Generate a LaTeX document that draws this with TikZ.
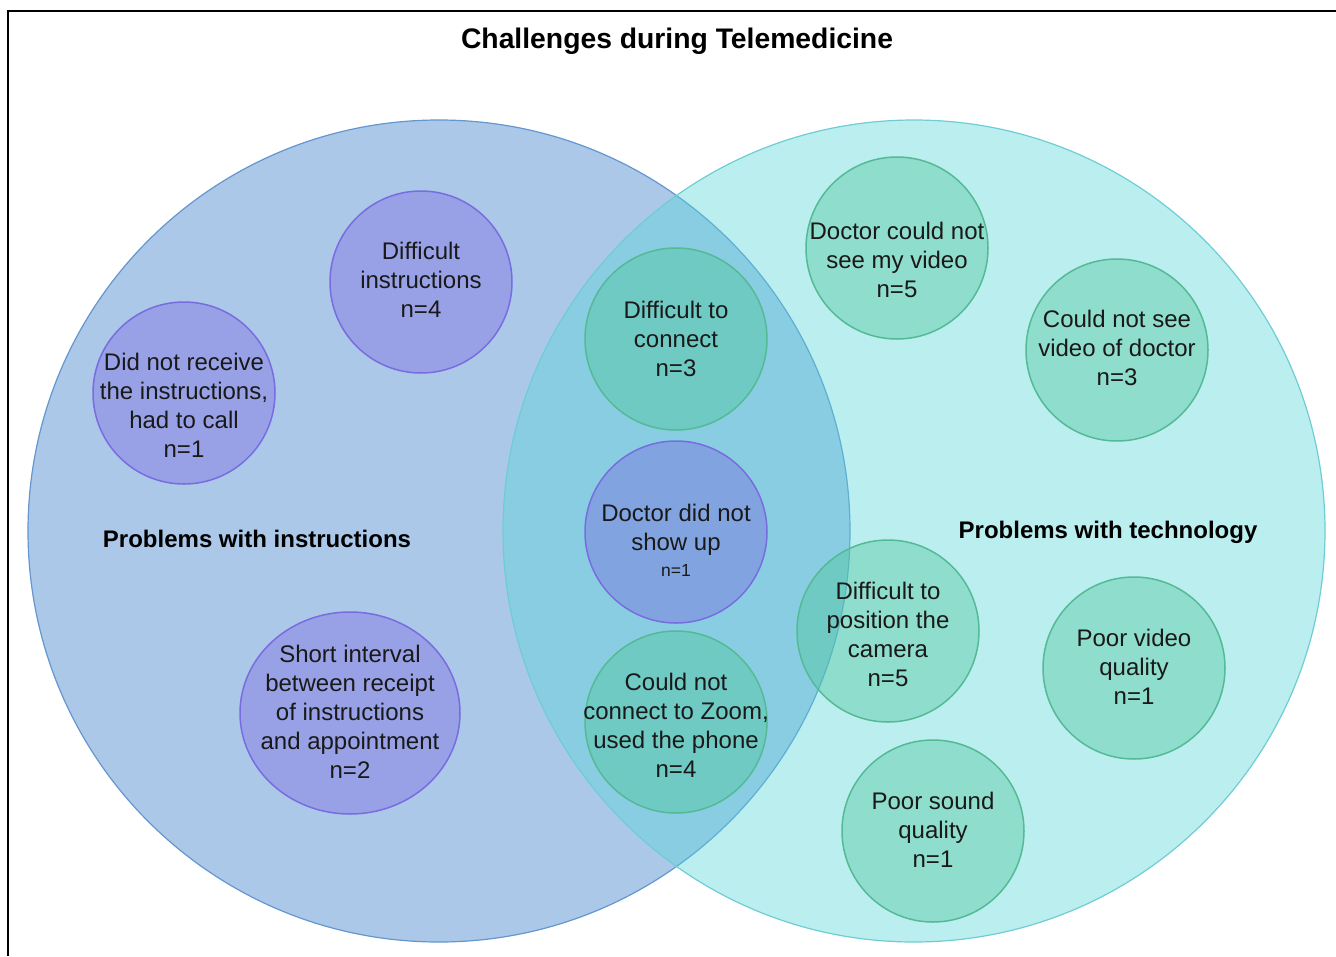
\documentclass[tikz,border=0pt]{standalone}
\usepackage{fontspec}
\setmainfont{Liberation Sans}
\usetikzlibrary{shapes.geometric}
\definecolor{bigLfill}{RGB}{171,200,232}
\definecolor{bigLdraw}{RGB}{100,150,208}
\definecolor{bigRfill}{RGB}{85,213,216}
\definecolor{bigRdraw}{RGB}{110,205,212}
\definecolor{purpfill}{RGB}{118,86,226}
\definecolor{purpdraw}{RGB}{120,108,224}
\definecolor{grnfill}{RGB}{81,198,158}
\definecolor{grndraw}{RGB}{84,186,150}
\definecolor{textc}{RGB}{25,25,25}
\begin{document}
\begin{tikzpicture}[x=1pt,y=-1pt,
  bigL/.style={circle, minimum size=822pt, inner sep=0pt, fill=bigLfill, draw=bigLdraw, line width=1.2pt},
  bigR/.style={circle, minimum size=822pt, inner sep=0pt, fill=bigRfill, fill opacity=0.4, draw=bigRdraw, draw opacity=1, line width=1.2pt},
  purp/.style={circle, minimum size=182pt, inner sep=0pt, fill=purpfill, fill opacity=0.34, draw=purpdraw, draw opacity=1, line width=1.5pt},
  purpell/.style={ellipse, minimum width=220pt, minimum height=202pt, inner sep=0pt, fill=purpfill, fill opacity=0.34, draw=purpdraw, draw opacity=1, line width=1.5pt},
  grn/.style={circle, minimum size=182pt, inner sep=0pt, fill=grnfill, fill opacity=0.42, draw=grndraw, draw opacity=1, line width=1.5pt},
  txt/.style={align=center, font=\fontsize{24}{29}\selectfont, text=textc, inner sep=0pt},
  head/.style={font=\bfseries\fontsize{24}{29}\selectfont, text=black, inner sep=0pt},
  frame/.style={line width=2.2pt, draw=black}
]
\useasboundingbox (0,0) rectangle (1336,956);
\coordinate (fa) at (8,956);
\coordinate (fb) at (8,11);
\coordinate (fc) at (1336,11);
\draw[frame] (fa) -- (fb) -- (fc);

\node[head, font=\bfseries\fontsize{28.3}{32}\selectfont] (title) at (677,41) {Challenges during Telemedicine};

\node[bigL] (L) at (439,531) {};
\node[bigR] (R) at (914,531) {};

\node[purp] (c1) at (421,282) {};
\node[purp] (c2) at (184,393) {};
\node[purpell] (c3) at (350,713) {};
\node[grn] (c4) at (676,339) {};
\node[purp] (c5) at (676,532) {};
\node[grn] (c6) at (676,722) {};
\node[grn] (c7) at (897,248) {};
\node[grn] (c8) at (1117,350) {};
\node[grn] (c9) at (888,631) {};
\node[grn] (c10) at (1134,668) {};
\node[grn] (c11) at (933,831) {};

\node[txt] (t1) at (421,280) {Difficult\\instructions\\n=4};
\node[txt] (t2) at (184,405) {Did not receive\\the instructions,\\had to call\\n=1};
\node[txt] (t3) at (350,712) {Short interval\\between receipt\\of instructions\\and appointment\\n=2};
\node[txt] (t4) at (676,339) {Difficult to\\connect\\n=3};
\node[txt] (t5) at (676,540) {Doctor did not\\show up\\[-3pt]{\fontsize{17.5}{20}\selectfont n=1}};
\node[txt] (t6) at (676,725) {Could not\\connect to Zoom,\\used the phone\\n=4};
\node[txt] (t7) at (897,260) {Doctor could not\\see my video\\n=5};
\node[txt] (t8) at (1117,348) {Could not see\\video of doctor\\n=3};
\node[txt] (t9) at (888,634) {Difficult to\\position the\\camera\\n=5};
\node[txt] (t10) at (1134,667) {Poor video\\quality\\n=1};
\node[txt] (t11) at (933,830) {Poor sound\\quality\\n=1};

\node[head] (hl) at (257,539) {Problems with instructions};
\node[head] (hr) at (1108,532) {Problems with technology};
\end{tikzpicture}
\end{document}
